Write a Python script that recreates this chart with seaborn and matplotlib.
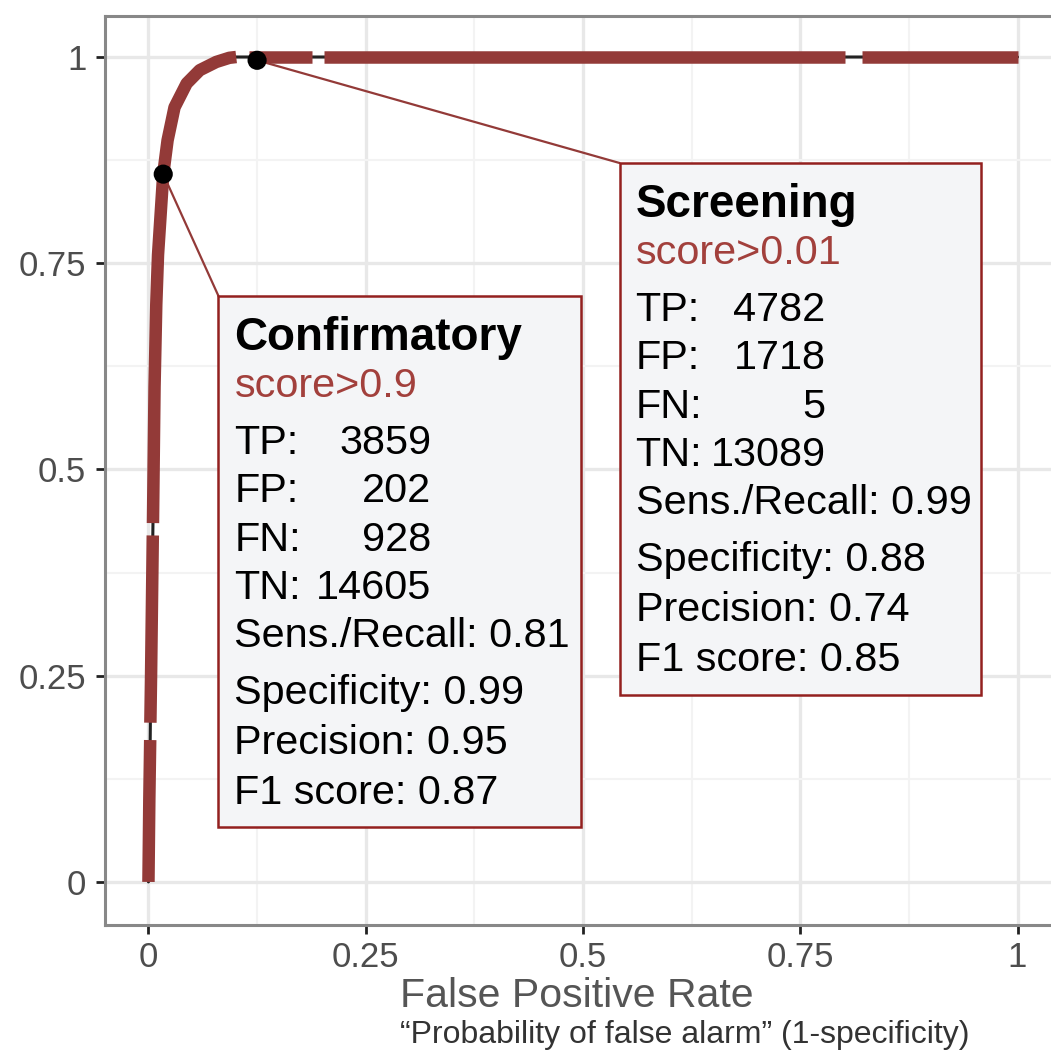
import matplotlib
matplotlib.use("Agg")
import matplotlib.pyplot as plt
import seaborn as sns
import pandas as pd
from matplotlib.patches import Rectangle

# ---------------- data ----------------
# ROC curve, split into runs where threshold points are dense
run_id = [1, 1, 1,
          2, 2, 2,
          3, 3, 3, 3, 3, 3, 3, 3, 3, 3, 3, 3,
          4, 4,
          5, 5,
          6, 6]
run_fpr = [0.0, 0.001, 0.002,
           0.0022, 0.003, 0.005,
           0.0052, 0.007, 0.009, 0.011, 0.017, 0.022, 0.030, 0.044, 0.059, 0.078, 0.093, 0.101,
           0.116, 0.188,
           0.202, 0.801,
           0.821, 1.0]
run_tpr = [0.0, 0.10, 0.172,
           0.193, 0.25, 0.42,
           0.435, 0.60, 0.70, 0.76, 0.858, 0.899, 0.939, 0.968, 0.984, 0.994, 0.999, 1.0,
           1.0, 1.0,
           1.0, 1.0,
           1.0, 1.0]

# Operating points
op_names = ["Confirmatory", "Screening"]
op_fpr = [0.017, 0.125]
op_tpr = [0.858, 0.996]
op_thresh = ["score>0.9", "score>0.01"]
op_tp = [3859, 4782]
op_fp = [202, 1718]
op_fn = [928, 5]
op_tn = [14605, 13089]
op_sens = ["0.81", "0.99"]
op_spec = ["0.99", "0.88"]
op_prec = ["0.95", "0.74"]
op_f1 = ["0.87", "0.85"]

x_ticks = [0, 0.25, 0.5, 0.75, 1]
x_tick_labels = ["0", "0.25", "0.5", "0.75", "1"]
y_ticks = [0, 0.25, 0.5, 0.75, 1]
y_tick_labels = ["0", "0.25", "0.5", "0.75", "1"]

x_title = "False Positive Rate"
x_subtitle = "\u201cProbability of false alarm\u201d (1-specificity)"

# ---------------- styling ----------------
sns.set_theme(style="white")
plt.rcParams["font.family"] = ["Liberation Sans", "DejaVu Sans"]

RED = "#933a38"
BOX_EDGE = "#93201f"
BOX_FILL = "#f4f5f7"
SCORE_COL = "#a2403c"

W = 1051
fig = plt.figure(figsize=(W / 100, W / 100), dpi=100)
ax = fig.add_axes([105 / W, (W - 925) / W, 956 / W, 909 / W])
ax.set_xlim(-0.05, 1.05)
ax.set_ylim(-0.0522, 1.0497)

# grid
ax.set_xticks(x_ticks)
ax.set_yticks(y_ticks)
ax.set_xticks([0.125, 0.375, 0.625, 0.875], minor=True)
ax.set_yticks([0.125, 0.375, 0.625, 0.875], minor=True)
ax.grid(True, which="major", color="#e8e8e8", linewidth=2.4, zorder=0)
ax.grid(True, which="minor", color="#f3f3f3", linewidth=1.5, zorder=0)
ax.set_axisbelow(True)
ax.set_xticklabels(x_tick_labels)
ax.set_yticklabels(y_tick_labels)
ax.tick_params(axis="both", which="major", length=6.5, width=2.0, color="#222222",
               labelsize=25, labelcolor="#4d4d4d", direction="out", bottom=True, left=True)
ax.tick_params(axis="x", pad=5)
ax.tick_params(axis="y", pad=7)
ax.tick_params(axis="both", which="minor", length=0)
for sp in ax.spines.values():
    sp.set_color("#888888")
    sp.set_linewidth(2.2)

df = pd.DataFrame({"fpr": run_fpr, "tpr": run_tpr, "run": run_id})

# thin black connecting line underneath
sns.lineplot(data=df, x="fpr", y="tpr", sort=False, estimator=None, color="#222222",
             linewidth=2.2, ax=ax, zorder=2)
# dense threshold points drawn as thick runs
sns.lineplot(data=df, x="fpr", y="tpr", units="run", estimator=None, sort=False,
             color=RED, linewidth=9, solid_capstyle="butt", ax=ax, zorder=3)

ops = pd.DataFrame({"fpr": op_fpr, "tpr": op_tpr, "name": op_names})
sns.scatterplot(data=ops, x="fpr", y="tpr", color="black", s=190, edgecolor="none",
                ax=ax, zorder=6)

ax.set_xlabel("")
ax.set_ylabel("")


def px2x(px):
    return (px - 149) / 869.0


def px2y(py):
    return (882 - py) / 825.0


# boxes (pixel geometry of the reference)
box_px = [(219, 296, 582, 827), (620, 163, 981, 695)]
num_right_px = [432, 826]
line_off = [54, 101, 158, 206, 255, 303, 351, 408, 458, 508]
FS = 29.8

for i in range(2):
    l, t, r, b = box_px[i]
    x0, y0 = px2x(l), px2y(b)
    ax.add_patch(Rectangle((x0, y0), px2x(r) - x0, px2y(t) - y0, facecolor=BOX_FILL,
                           edgecolor=BOX_EDGE, linewidth=1.8, zorder=7))
    # connector
    ax.plot([op_fpr[i], px2x(l)], [op_tpr[i], px2y(t)], color=RED, linewidth=1.6, zorder=5)
    tx = px2x(l + 16)
    nx = px2x(num_right_px[i])
    ys = [px2y(t + o) for o in line_off]
    ax.text(tx, ys[0], op_names[i], fontsize=33, fontweight="bold", color="black",
            va="baseline", ha="left", zorder=8)
    ax.text(tx, ys[1], op_thresh[i], fontsize=FS, color=SCORE_COL, va="baseline",
            ha="left", zorder=8)
    for k, (lab, val) in enumerate([("TP:", op_tp[i]), ("FP:", op_fp[i]),
                                    ("FN:", op_fn[i]), ("TN:", op_tn[i])]):
        ax.text(tx, ys[2 + k], lab, fontsize=FS, color="black", va="baseline",
                ha="left", zorder=8)
        ax.text(nx, ys[2 + k], str(val), fontsize=FS, color="black", va="baseline",
                ha="right", zorder=8)
    rest = [f"Sens./Recall: {op_sens[i]}", f"Specificity: {op_spec[i]}",
            f"Precision: {op_prec[i]}", f"F1 score: {op_f1[i]}"]
    for k, s in enumerate(rest):
        ax.text(tx, ys[6 + k], s, fontsize=FS, color="black", va="baseline",
                ha="left", zorder=8)

fig.text(400 / W, 1 - 1007 / W, x_title, fontsize=29.5, color="#555555", ha="left",
         va="baseline")
fig.text(400 / W, 1 - 1043 / W, x_subtitle, fontsize=23, color="#333333", ha="left",
         va="baseline")

fig.savefig("out.png", dpi=100, facecolor="white")
